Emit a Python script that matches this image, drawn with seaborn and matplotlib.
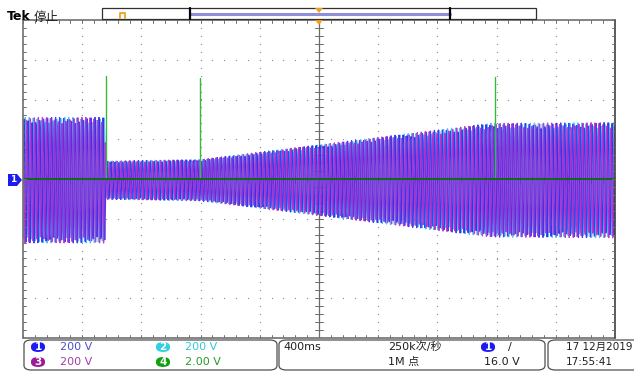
import numpy as np
import pandas as pd
import matplotlib
matplotlib.use("Agg")
import matplotlib.pyplot as plt
import seaborn as sns
from matplotlib.patches import FancyBboxPatch, Polygon, Rectangle

sns.set_theme(style="white")
plt.rcParams['font.family'] = ['DejaVu Sans', 'Noto Sans CJK SC']

# ---------------- data (divisions: x 0..10, y -4..4) ----------------
env_t = [0.0, 1.38, 1.40, 3.00, 7.90, 10.0]          # time, div (400 ms/div)
env_a = [1.58, 1.58, 0.48, 0.52, 1.43, 1.45]          # amplitude, div (200 V/div)
cycles_on_screen = 150                                  # displayed carrier stripes
channel_names = ["CH2", "CH1", "CH3"]
channel_phase_deg = [240, 0, 120]
channel_colors = {"CH1": "#2020f0", "CH2": "#30b8f0", "CH3": "#b020c8"}
spike_t = [1.40, 2.99, 7.97]
spike_h = [2.60, 2.54, 2.56]

ch_labels = ["1", "3", "2", "4"]
ch_scales = ["200 V", "200 V", "200 V", "2.00 V"]
timebase = "400ms"
sample_rate = "250k次/秒"
record_len = "1M 点"
trig_level = "16.0 V"
date_str = "17 12月2019"
time_str = "17:55:41"

# ---------------- figure ----------------
W, H = 634, 372
fig = plt.figure(figsize=(W / 100, H / 100), dpi=100)
fig.patch.set_facecolor("white")

def fx(px):
    return px / W

def fy(py):
    return 1 - py / H

L, R, T, B = 23, 615, 20, 338
ax = fig.add_axes([fx(L), fy(B), (R - L) / W, (B - T) / H])
ax.set_xlim(0, 10)
ax.set_ylim(-4, 4)
ax.axis("off")

# grid dots
gc = "#8a8a8a"
minor = np.arange(0, 10.01, 0.2)
minor_y = np.arange(-4, 4.01, 0.2)
for i in range(1, 10):
    if i == 5:
        continue
    ax.scatter(np.full_like(minor_y, i), minor_y, s=0.8, color=gc, lw=0, zorder=1)
for j in range(-3, 4):
    if j == 0:
        continue
    ax.scatter(minor, np.full_like(minor, j), s=0.8, color=gc, lw=0, zorder=1)

# traces
t = np.linspace(0, 10, 1037)
amp = np.interp(t, env_t, env_a)
rows = []
for name, ph in zip(channel_names, channel_phase_deg):
    y = amp * np.sin(2 * np.pi * cycles_on_screen * t / 10 + np.deg2rad(ph)) - 0.03
    rows.append(pd.DataFrame({"t": t, "v": y, "ch": name}))
df = pd.concat(rows, ignore_index=True)
sns.lineplot(data=df, x="t", y="v", hue="ch", hue_order=channel_names,
             palette=channel_colors, estimator=None, sort=False,
             linewidth=0.9, alpha=0.85, legend=False, ax=ax, zorder=3)

# channel 4 (green)
for st, sh in zip(spike_t, spike_h):
    ax.plot([st, st], [0, sh], color="#3cb83c", lw=1.0, zorder=5)

# center cross with ticks
cc = "#6a6a6a"
ax.axvline(5, color=cc, lw=0.9, zorder=2)
for yy in minor_y:
    ax.plot([4.93, 5.07], [yy, yy], color=cc, lw=0.7, zorder=2)
for xx in minor:
    ax.plot([xx, xx], [-0.09, 0.09], color=cc, lw=0.7, zorder=2)
ax.axhline(0, color="#0a6a0a", lw=1.3, zorder=5)

# frame with ticks
fc = "#707070"
ax.plot([0, 10], [4, 4], color=fc, lw=1.2, clip_on=False, zorder=6)
ax.plot([0, 10], [-4, -4], color=fc, lw=1.2, clip_on=False, zorder=6)
ax.plot([0, 0], [-4, 4], color=fc, lw=1.2, clip_on=False, zorder=6)
ax.plot([10, 10], [-4, 4], color="#404040", lw=1.2, clip_on=False, zorder=6)
for xx in minor:
    ax.plot([xx, xx], [4, 3.92], color=fc, lw=0.7, zorder=6)
    ax.plot([xx, xx], [-4, -3.92], color=fc, lw=0.7, zorder=6)
for yy in minor_y:
    ax.plot([0, 0.05], [yy, yy], color=fc, lw=0.7, zorder=6)
    ax.plot([10, 9.95], [yy, yy], color=fc, lw=0.7, zorder=6)

# ---------------- overlays in figure pixels ----------------
def frect(x0, y0, x1, y1, **kw):
    fig.patches.append(Rectangle((fx(x0), fy(y1)), fx(x1) - fx(x0), fy(y0) - fy(y1),
                                 transform=fig.transFigure, **kw))

def ftext(x, y, s, **kw):
    fig.text(fx(x), fy(y), s, va="center", **kw)

ftext(7, 17, "Tek", fontsize=9, fontweight="bold", color="black")
ftext(34, 17, "停止", fontsize=9, color="#202020")

# record bar
frect(102, 8, 536, 19, facecolor="white", edgecolor="#303030", lw=0.9)
fig.lines.append(plt.Line2D([fx(190), fx(450)], [fy(13.5), fy(13.5)],
                            transform=fig.transFigure, color="#8f8fd8", lw=2.2))
for xv in (190, 450):
    fig.lines.append(plt.Line2D([fx(xv), fx(xv)], [fy(8), fy(19)],
                                transform=fig.transFigure, color="black", lw=1.6))
fig.lines.append(plt.Line2D([fx(120), fx(120), fx(125), fx(125)],
                            [fy(18), fy(13), fy(13), fy(18)],
                            transform=fig.transFigure, color="#f0a020", lw=1.3))
# trigger position markers
for yt in (8, 20):
    fig.patches.append(Polygon([[fx(315), fy(yt)], [fx(323), fy(yt)], [fx(319), fy(yt + 5)]],
                               closed=True, transform=fig.transFigure,
                               facecolor="#f0a020", edgecolor="none"))

# left channel marker
fig.patches.append(Polygon([[fx(8), fy(174)], [fx(17), fy(174)], [fx(22), fy(180)],
                            [fx(17), fy(186)], [fx(8), fy(186)]], closed=True,
                           transform=fig.transFigure, facecolor="#1c1cf0", edgecolor="none"))
ftext(13, 180, "1", fontsize=6.5, color="white", ha="center", fontweight="bold")

# bottom panels
for x0, x1 in ((24, 277), (279, 545), (548, 645)):
    fig.patches.append(FancyBboxPatch((fx(x0), fy(370)), fx(x1) - fx(x0), fy(340) - fy(370),
                                      boxstyle="round,pad=0,rounding_size=0.012",
                                      transform=fig.transFigure, facecolor="white",
                                      edgecolor="#505050", lw=0.9))

def badge(cx, cy, s, col):
    fig.patches.append(FancyBboxPatch((fx(cx - 7), fy(cy + 5)), fx(14), 10 / H,
                                      boxstyle="round,pad=0,rounding_size=0.012",
                                      transform=fig.transFigure, facecolor=col,
                                      edgecolor="none", mutation_aspect=1))
    ftext(cx, cy, s, fontsize=7.5, color="white", ha="center", fontweight="bold")

badge_cols = ["#1c1cf0", "#9a1a9a", "#30d0e0", "#10a010"]
text_cols = ["#5050c8", "#a040a8", "#30c8d8", "#2a9a2a"]
pos = [(38, 347), (38, 362), (163, 347), (163, 362)]
for (cx, cy), lab, sc, bc, tc in zip(pos, ch_labels, ch_scales, badge_cols, text_cols):
    badge(cx, cy, lab, bc)
    ftext(cx + 22, cy, sc, fontsize=8, color=tc)

ftext(283, 347, timebase, fontsize=8, color="#202020")
ftext(388, 347, sample_rate, fontsize=8, color="#202020")
ftext(388, 362, record_len, fontsize=8, color="#202020")
badge(488, 347, "1", "#1c1cf0")
ftext(508, 347, "/", fontsize=8, color="#202020")
ftext(484, 362, trig_level, fontsize=8, color="#202020")
ftext(566, 347, date_str, fontsize=7.5, color="#202020")
ftext(566, 362, time_str, fontsize=7.5, color="#202020")

fig.savefig("out.png", dpi=100, facecolor="white")
